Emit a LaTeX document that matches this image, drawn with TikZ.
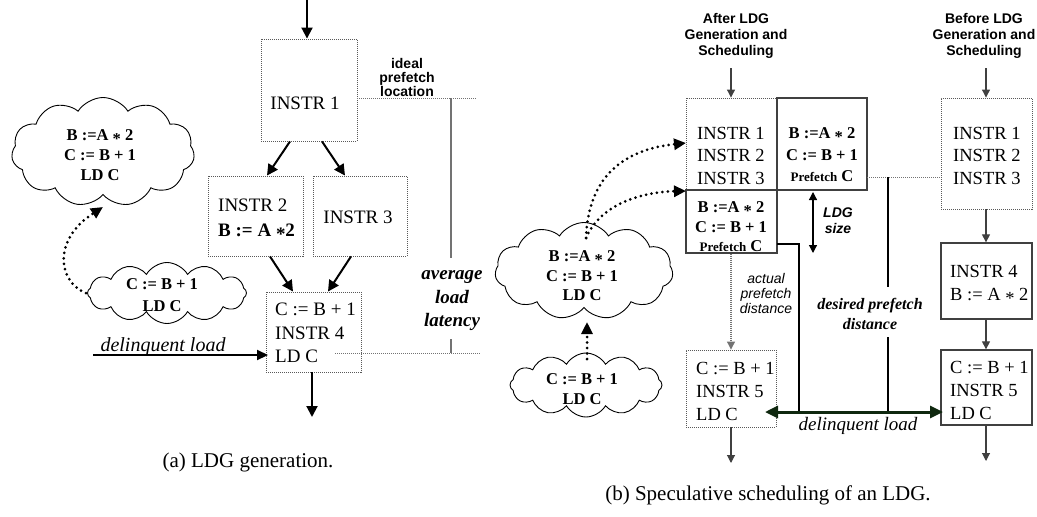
\documentclass[tikz,border=0pt]{standalone}
\usepackage{fontspec}
\setmainfont{Liberation Serif}
\newfontfamily\arialf{Liberation Sans}
\usetikzlibrary{arrows.meta,shapes.symbols,calc}
\newcommand{\cst}{\raisebox{-0.22em}{*}}
\definecolor{dkg}{RGB}{15,40,15}
\tikzset{
  dotbox/.style={draw=black!65, dash pattern=on 1pt off 1pt, line width=0.9pt, inner sep=0pt},
  solbox/.style={draw=black!75, line width=1.3pt, inner sep=0pt},
  cl/.style={cloud, cloud puffs=11, cloud puff arc=115, draw=black, line width=0.9pt, inner sep=0pt},
  athick/.style={line width=2pt, -{Triangle[length=11pt,width=11pt]}},
  bthin/.style={draw=black!75, line width=1.1pt, -{Triangle[length=8pt,width=8pt]}},
  dotarr/.style={line width=3pt, dash pattern=on 0pt off 5.5pt, line cap=round, -{Triangle[length=12pt,width=11pt]}},
  dotln/.style={draw=black!55, dash pattern=on 1pt off 1pt, line width=0.9pt},
  grayln/.style={draw=black!55, line width=1.5pt},
  blkln/.style={draw=black, line width=1.2pt},
  txa/.style={font=\fontsize{19}{23.5}\selectfont, inner sep=0pt, align=left},
  txb/.style={font=\fontsize{18.5}{22.5}\selectfont, inner sep=0pt, align=left},
  bld/.style={font=\bfseries\fontsize{16.5}{20}\selectfont, inner sep=0pt, align=center},
  sansb/.style={font=\arialf\bfseries\fontsize{14}{16}\selectfont, inner sep=0pt, align=center},
  sansbi/.style={font=\arialf\bfseries\itshape\fontsize{14}{16}\selectfont, inner sep=0pt, align=center},
  sansi/.style={font=\arialf\itshape\fontsize{14}{15}\selectfont, inner sep=0pt, align=center},
  serbi/.style={font=\bfseries\itshape\fontsize{19}{23.5}\selectfont, inner sep=0pt, align=center},
  seri/.style={font=\itshape\fontsize{20}{24}\selectfont, inner sep=0pt},
  capt/.style={font=\fontsize{21}{25}\selectfont, inner sep=0pt},
}
\begin{document}
\begin{tikzpicture}[x=1pt,y=-1pt]
\useasboundingbox (0,0) rectangle (1037,517);

%%%%%%%%%%%%%%%% (a) %%%%%%%%%%%%%%%%
\node[dotbox, minimum width=96pt, minimum height=102pt] (i1) at (309,90) {};
\node[txa] (i1t) at (305,103) {INSTR 1};
\node[dotbox, minimum width=95pt, minimum height=80pt] (i2) at (255.5,216) {};
\node[txa, font=\fontsize{19}{25}\selectfont, anchor=west] (i2t) at (218,219.5) {INSTR 2\\\textbf{B := A \cst2}};
\node[dotbox, minimum width=94pt, minimum height=80pt] (i3) at (360,216) {};
\node[txa] (i3t) at (358,217) {INSTR 3};
\node[dotbox, minimum width=95pt, minimum height=80pt] (i4) at (313.5,332) {};
\node[txa, anchor=west] (i4t) at (275,333) {C := B + 1\\INSTR 4\\LD C};

\coordinate (a0) at (307,0);
\draw[athick] (a0) -- (a0 |- i1.north);
\draw[athick] ($(i1.south)+(-19,0)$) -- ($(i2.north)+(11.5,0)$);
\draw[athick] ($(i1.south)+(13,0)$) -- ($(i3.north)+(-15,0)$);
\draw[athick] ($(i2.south)+(14.5,0)$) -- ($(i4.north)+(-20.5,0)$);
\draw[athick] ($(i3.south)+(-9,0)$) -- ($(i4.north)+(14.5,0)$);
\coordinate (a5) at (312,417);
\draw[athick] (i4.south -| a5) -- (a5);

\node[sansb, font=\arialf\bfseries\fontsize{14}{14}\selectfont] (ipl) at (407,77) {ideal\\prefetch\\location};
\coordinate (ipA) at (357,98); \coordinate (ipB) at (477,98);
\draw[dotln] (ipA) -- (ipB);
\coordinate (v1t) at (451,98); \coordinate (v1a) at (451,258);
\coordinate (v1b) at (451,339); \coordinate (v1c) at (451,353);
\draw[grayln] (v1t) -- (v1a);
\draw[grayln] (v1b) -- (v1c);
\node[serbi] (alt) at (452,301) {average\\load\\latency};
\coordinate (llA) at (335,353); \coordinate (llB) at (480,353);
\draw[dotln] (llA) -- (llB);

\coordinate (dl0) at (93,355); \coordinate (dl1) at (268,355);
\draw[line width=2.2pt, -{Triangle[length=11pt,width=10pt]}] (dl0) -- (dl1);
\node[seri] (dlt) at (163,347) {delinquent load};

\node[cl, aspect=1.68, minimum width=183pt, minimum height=109pt] (c1) at (103,152) {};
\node[bld] (c1t) at (100,155) {B :=A \cst{} 2\\C := B + 1\\LD C};
\node[cl, cloud puffs=12, cloud puff arc=120, shape border rotate=15, aspect=2.6, minimum width=159pt, minimum height=61pt] (c2) at (167,293) {};
\node[bld, font=\bfseries\fontsize{16.5}{22}\selectfont] (c2t) at (162,295) {C := B + 1\\LD C};
\coordinate (c2s) at (86,293); \coordinate (c1e) at (103,207);
\draw[dotarr] (c2s) .. controls (58,282) and (52,240) .. (c1e);

\node[capt] (capa) at (248,462) {(a) LDG generation.};

%%%%%%%%%%%%%%%% (b) %%%%%%%%%%%%%%%%
\node[sansb] (hA) at (736,36) {After LDG\\Generation and\\Scheduling};
\node[sansb] (hB) at (984,36) {Before LDG\\Generation and\\Scheduling};

\node[dotbox, minimum width=91pt, minimum height=92pt] (ab1) at (731.5,144) {};
\node[txb, anchor=west] (ab1t) at (697,155.5) {INSTR 1\\INSTR 2\\INSTR 3};
\node[solbox, minimum width=90pt, minimum height=92pt] (ab2) at (822,144) {};
\node[bld, font=\bfseries\fontsize{16.5}{21.5}\selectfont] (ab2t) at (822,155) {B :=A \cst{} 2\\C := B + 1\\{\fontsize{13}{21.5}\selectfont Prefetch} C};
\node[solbox, minimum width=91pt, minimum height=63pt] (ab3) at (731.5,221.5) {};
\node[bld, font=\bfseries\fontsize{16.5}{19.5}\selectfont] (ab3t) at (731,227) {B :=A \cst{} 2\\C := B + 1\\{\fontsize{13}{19.5}\selectfont Prefetch} C};
\node[dotbox, minimum width=90pt, minimum height=77pt] (ab5) at (731,388.5) {};
\node[txb, font=\fontsize{18.5}{23}\selectfont, anchor=west] (ab5t) at (696,391) {C := B + 1\\INSTR 5\\LD C};

\node[dotbox, minimum width=91pt, minimum height=111pt] (bb1) at (986.5,153.5) {};
\node[txb, anchor=west] (bb1t) at (953,155.5) {INSTR 1\\INSTR 2\\INSTR 3};
\node[solbox, minimum width=91pt, minimum height=76pt] (bb4) at (986.5,281) {};
\node[txb, anchor=west] (bb4t) at (950,285) {INSTR 4\\B := A \cst{} 2};
\node[solbox, minimum width=91pt, minimum height=75pt] (bb5) at (986.5,387.5) {};
\node[txb, font=\fontsize{18.5}{23}\selectfont, anchor=west] (bb5t) at (950,390.5) {C := B + 1\\INSTR 5\\LD C};

\coordinate (hAa) at (731,68); \coordinate (hBa) at (986,68);
\draw[bthin] (hAa) -- (hAa |- ab1.north);
\draw[bthin] (hBa) -- (hBa |- bb1.north);
\draw[bthin] (bb1.south -| hBa) -- (bb4.north -| hBa);
\draw[bthin] (bb4.south -| hBa) -- (bb5.north -| hBa);
\coordinate (bEnd) at (986,461);
\draw[bthin] (bb5.south -| bEnd) -- (bEnd);
\coordinate (aEnd) at (731,463);
\draw[bthin] (ab5.south -| aEnd) -- (aEnd);
\draw[bthin, dash pattern=on 1pt off 1pt, draw=black!55] (ab3.south -| aEnd) -- (ab5.north -| aEnd);

\coordinate (ls1) at (813,192); \coordinate (ls2) at (813,253);
\draw[draw=black, line width=1.2pt, {Triangle[length=8pt,width=8pt]}-{Triangle[length=8pt,width=8pt]}] (ls1) -- (ls2);
\node[sansbi] (lsz) at (838,221) {LDG\\size};

\node[sansi] (apd) at (766,293) {actual\\prefetch\\distance};

\coordinate (dpA) at (867,177); \coordinate (dpB) at (941,177);
\draw[dotln] (dpA) -- (dpB);
\coordinate (dv0) at (888,177); \coordinate (dv1) at (888,287);
\coordinate (dv2) at (888,337); \coordinate (dv3) at (888,412);
\draw[blkln] (dv0) -- (dv1);
\draw[blkln] (dv2) -- (dv3);
\node[serbi, font=\bfseries\itshape\fontsize{16}{20}\selectfont] (dpd) at (870,314) {desired prefetch\\distance};

\coordinate (pv0) at (777,244); \coordinate (pv1) at (799,244); \coordinate (pv2) at (799,412);
\draw[blkln] (pv0) -- (pv1) -- (pv2);

\coordinate (dlL) at (765,412); \coordinate (dlR) at (943,412);
\draw[draw=dkg, line width=3pt, {Triangle[length=13pt,width=12pt]}-{Triangle[length=13pt,width=12pt]}] (dlL) -- (dlR);
\node[seri, font=\itshape\fontsize{19}{23}\selectfont] (dlbt) at (858,426) {delinquent load};

\node[cl, aspect=1.83, minimum width=178pt, minimum height=97pt] (c3) at (584,271) {};
\node[bld, font=\bfseries\fontsize{16.5}{19.5}\selectfont] (c3t) at (582,276) {B :=A \cst{} 2\\C := B + 1\\LD C};
\node[cl, cloud puffs=12, cloud puff arc=120, shape border rotate=15, aspect=2.4, minimum width=152pt, minimum height=64pt] (c4) at (586,385) {};
\node[bld] (c4t) at (582,389) {C := B + 1\\LD C};

\coordinate (c3s) at (586,238);
\coordinate (t1) at (686,143); \coordinate (t2) at (686,191);
\draw[dotarr] (c3s) .. controls (588,180) and (620,150) .. (t1);
\draw[dotarr] (c3s) .. controls (600,205) and (640,192) .. (t2);
\coordinate (c4s) at (587,359); \coordinate (c3e) at (587,322);
\draw[dotarr] (c4s) -- (c3e);

\node[capt] (capb) at (768,495) {(b) Speculative scheduling of an LDG.};
\end{tikzpicture}
\end{document}
